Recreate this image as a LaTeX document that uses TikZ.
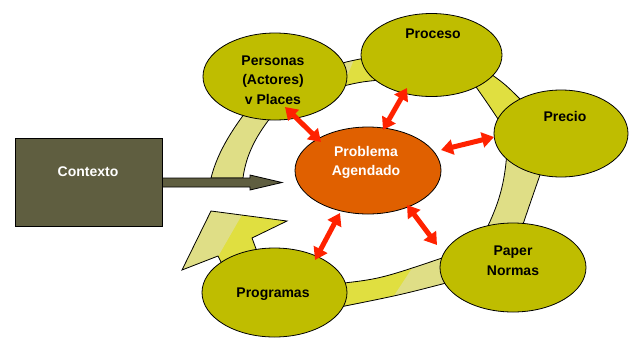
\documentclass[tikz,border=0pt]{standalone}
\usepackage{fontspec}
\setmainfont{Liberation Sans}
\usetikzlibrary{shapes.geometric,arrows.meta}

\definecolor{olivefill}{HTML}{BFBD00}
\definecolor{corefill}{HTML}{E06000}
\definecolor{bandpale}{HTML}{DFDE86}
\definecolor{bandbright}{HTML}{E0DF40}
\definecolor{ctxfill}{HTML}{5F5E40}
\definecolor{linkred}{HTML}{FF2200}

% outlines of the two-tone pieces of the ring
\def\ringtop{(330,67) .. controls (345,62) .. (370,57) -- (380,80) .. controls (360,82) .. (335,88) -- cycle}
\def\ringbottom{(335,284) .. controls (380,279) .. (448,256) -- (450,282) .. controls (400,295) .. (335,308) -- cycle}
\def\ringhead{(182,270) -- (211,211) -- (287,221) -- (252,238) -- (262,265) -- (225,270) -- (218,256) -- cycle}

\begin{document}
\begin{tikzpicture}[x=1pt,y=-1pt,
  blob/.style={ellipse,draw=black,line width=0.8pt,fill=olivefill,inner sep=0pt},
  lbl/.style={font=\fontsize{14}{19.5}\selectfont\bfseries,align=center,inner sep=0pt},
  band/.style={draw=black,line width=0.8pt},
  link/.style={draw=linkred,line width=5pt,
    {Triangle[width=15pt,length=12pt]}-{Triangle[width=15pt,length=12pt]}}
]
\useasboundingbox (0,0) rectangle (629,338);

% ---- ring of bands joining the outer ellipses ----
% left arm (pale)
\path[band,fill=bandpale] (255,100) .. controls (235,125) and (218,150) .. (211,178)
  -- (243,178) .. controls (246,155) and (256,135) .. (275,112) -- cycle;
% top arm (bright, pale corner)
\fill[bandbright] \ringtop;
\begin{scope}
  \clip \ringtop;
  \fill[bandpale] (330,50) -- (358,50) -- (348,74) -- (330,74) -- cycle;
\end{scope}
\draw[band] \ringtop;
% upper right arm (bright)
\path[band,fill=bandbright] (488,72) .. controls (505,84) .. (525,104)
  -- (500,122) .. controls (488,104) .. (474,84) -- cycle;
% right arm (pale)
\path[band,fill=bandpale] (512,150) -- (548,158) -- (540,175) .. controls (533,195) .. (521,230)
  -- (486,230) .. controls (498,205) and (505,185) .. (507,150) -- cycle;
% bottom arm (bright, pale towards the right)
\fill[bandbright] \ringbottom;
\begin{scope}
  \clip \ringbottom;
  \fill[bandpale] (424,250) -- (460,250) -- (460,320) -- (378,320) -- cycle;
\end{scope}
\draw[band] \ringbottom;
% arrow head closing the ring
\fill[bandbright] \ringhead;
\begin{scope}
  \clip \ringhead;
  \fill[bandpale] (170,200) -- (250.5,200) -- (204.5,280) -- (170,280) -- cycle;
\end{scope}
\draw[band] \ringhead;

% ---- context box and its arrow ----
\node[draw=black,line width=0.8pt,fill=ctxfill,minimum width=147pt,minimum height=88pt,
  inner sep=0pt] (ctx) at (88.5,182) {};
\node[lbl,text=white] (ctx-t) at (88,172) {Contexto};
\coordinate (ctxtip) at (282,182.5);
\filldraw[draw=black,line width=0.8pt,fill=ctxfill]
  (ctx.east |- 0,178) -- (250,178) -- (250,175) -- (ctxtip) -- (250,190) -- (250,187)
  -- (ctx.east |- 0,187) -- cycle;

% ---- outer ellipses ----
\node[blob,minimum width=144pt,minimum height=87pt] (personas) at (275,76.5) {};
\node[blob,minimum width=141pt,minimum height=83pt] (proceso) at (431.5,55) {};
\node[blob,minimum width=134pt,minimum height=87pt] (precio) at (561,133.5) {};
\node[blob,minimum width=146pt,minimum height=89pt] (paper) at (513,267.5) {};
\node[blob,minimum width=145pt,minimum height=89pt] (programas) at (274.5,292.5) {};

% ---- central ellipse ----
\node[ellipse,draw=black,line width=0.8pt,fill=corefill,inner sep=0pt,
  minimum width=146pt,minimum height=87pt] (core) at (368,170.5) {};

% ---- labels ----
\node[lbl] (personas-t) at (273,80) {Personas\\(Actores)\\v Places};
\node[lbl] (proceso-t) at (433,34) {Proceso};
\node[lbl] (precio-t) at (565,116) {Precio};
\node[lbl] (paper-t) at (513,260.5) {Paper\\Normas};
\node[lbl] (programas-t) at (273,294) {Programas};
\node[lbl,text=white] (core-t) at (366,162.5) {Problema\\Agendado};

% ---- links between the core and each ellipse ----
\coordinate (a1) at (285,107);  \coordinate (a2) at (321,142);
\coordinate (b1) at (407,88);   \coordinate (b2) at (383,130);
\coordinate (c1) at (494,137);  \coordinate (c2) at (441,150);
\coordinate (d1) at (407,205);  \coordinate (d2) at (437,245);
\coordinate (e1) at (340,213);  \coordinate (e2) at (315,260);
\draw[link] (a1) -- (a2);
\draw[link] (b1) -- (b2);
\draw[link] (c1) -- (c2);
\draw[link] (d1) -- (d2);
\draw[link] (e1) -- (e2);
\end{tikzpicture}
\end{document}
